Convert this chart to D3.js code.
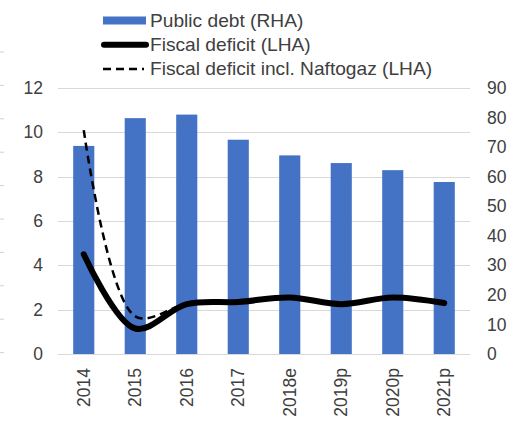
<!DOCTYPE html>
<html>
<head>
<meta charset="utf-8">
<script src="https://cdn.jsdelivr.net/npm/d3@7"></script>
<style>
  body { margin: 0; background: #fff; }
  svg text { font-family: Arial, "Liberation Sans", sans-serif; fill: #404040; }
</style>
</head>
<body>
<div id="chart"></div>
<script>
// Data
var years = ['2014', '2015', '2016', '2017', '2018e', '2019p', '2020p', '2021p'];
var publicDebt = [70.4, 79.8, 81.0, 72.5, 67.2, 64.6, 62.2, 58.2];      // % GDP, right axis
var fiscalDeficit = [4.5, 1.15, 2.25, 2.35, 2.55, 2.25, 2.55, 2.3];      // left axis
var deficitNaftogaz = [10.1, 1.7, 2.25, 2.35, 2.55, 2.25, 2.55, 2.3];    // left axis
var leftTicks = [0, 2, 4, 6, 8, 10, 12];
var rightTicks = [0, 10, 20, 30, 40, 50, 60, 70, 80, 90];

var width = 522, height = 421;
var margin = { left: 58, right: 52, top: 88, bottom: 67 };
var chartWidth = width - margin.left - margin.right;
var chartHeight = height - margin.top - margin.bottom;

var svg = d3.select('#chart').append('svg')
    .attr('width', width)
    .attr('height', height);

// stray tick marks from the neighbouring chart at the left edge
svg.append('g').selectAll('line')
    .data(d3.range(10))
    .enter().append('line')
    .attr('x1', 0).attr('x2', 4)
    .attr('y1', function(d) { return 52 + d * 33.4; })
    .attr('y2', function(d) { return 52 + d * 33.4; })
    .attr('stroke', '#d0d0d0');

var g = svg.append('g')
    .attr('transform', 'translate(' + margin.left + ',' + margin.top + ')');

var x = d3.scaleBand().domain(years).range([0, chartWidth]).paddingInner(0.59).paddingOuter(0.295);
var xPoint = function(d) { return x(d) + x.bandwidth() / 2; };
var yLeft = d3.scaleLinear().domain([0, 12]).range([chartHeight, 0]);
var yRight = d3.scaleLinear().domain([0, 90]).range([chartHeight, 0]);

// gridlines
g.append('g').selectAll('line')
    .data(leftTicks)
    .enter().append('line')
    .attr('x1', 0).attr('x2', chartWidth)
    .attr('y1', function(d) { return Math.round(yLeft(d)) + 0.5; })
    .attr('y2', function(d) { return Math.round(yLeft(d)) + 0.5; })
    .attr('stroke', '#d9d9d9')
    .attr('stroke-width', 1);

// bars
g.append('g').selectAll('rect')
    .data(publicDebt)
    .enter().append('rect')
    .attr('x', function(d, i) { return x(years[i]); })
    .attr('width', x.bandwidth())
    .attr('y', function(d) { return yRight(d); })
    .attr('height', function(d) { return chartHeight - yRight(d); })
    .attr('fill', '#4472c4');

// lines
var line = d3.line()
    .x(function(d, i) { return xPoint(years[i]); })
    .y(function(d) { return yLeft(d); })
    .curve(d3.curveCatmullRom.alpha(0.5));

g.append('path')
    .datum(deficitNaftogaz)
    .attr('d', line)
    .attr('fill', 'none')
    .attr('stroke', '#000')
    .attr('stroke-width', 2.5)
    .attr('stroke-dasharray', '8,5');

g.append('path')
    .datum(fiscalDeficit)
    .attr('d', line)
    .attr('fill', 'none')
    .attr('stroke', '#000')
    .attr('stroke-width', 6)
    .attr('stroke-linecap', 'round')
    .attr('stroke-linejoin', 'round');

// axes
var leftAxis = d3.axisLeft(yLeft).tickValues(leftTicks).tickSize(0).tickPadding(15);
var rightAxis = d3.axisRight(yRight).tickValues(rightTicks).tickSize(0).tickPadding(17);
var bottomAxis = d3.axisBottom(x).tickSize(0);

var leftG = g.append('g').call(leftAxis);
var rightG = g.append('g').attr('transform', 'translate(' + chartWidth + ',0)').call(rightAxis);
var bottomG = g.append('g').attr('transform', 'translate(0,' + chartHeight + ')').call(bottomAxis);

[leftG, rightG, bottomG].forEach(function(a) {
    a.select('.domain').remove();
    a.selectAll('text').style('font-size', '17.5px').attr('fill', '#404040')
        .style('font-family', 'Arial, "Liberation Sans", sans-serif');
});

bottomG.selectAll('text')
    .attr('transform', 'rotate(-90)')
    .attr('text-anchor', 'end')
    .attr('x', -14)
    .attr('y', 0)
    .attr('dy', '0.35em');

// legend
var legend = svg.append('g').attr('transform', 'translate(101,0)');
var items = [
    { label: 'Public debt (RHA)', type: 'bar' },
    { label: 'Fiscal deficit (LHA)', type: 'solid' },
    { label: 'Fiscal deficit incl. Naftogaz (LHA)', type: 'dash' }
];
var row = legend.selectAll('g')
    .data(items)
    .enter().append('g')
    .attr('transform', function(d, i) { return 'translate(0,' + (20.5 + i * 24.3) + ')'; });

row.filter(function(d) { return d.type === 'bar'; })
    .append('rect')
    .attr('x', 2).attr('y', -4).attr('width', 43).attr('height', 8)
    .attr('fill', '#4472c4');
row.filter(function(d) { return d.type === 'solid'; })
    .append('line')
    .attr('x1', 3).attr('x2', 45).attr('y1', 0).attr('y2', 0)
    .attr('stroke', '#000').attr('stroke-width', 6).attr('stroke-linecap', 'round');
row.filter(function(d) { return d.type === 'dash'; })
    .append('line')
    .attr('x1', 2).attr('x2', 43).attr('y1', 0).attr('y2', 0)
    .attr('stroke', '#000').attr('stroke-width', 2.5).attr('stroke-dasharray', '8,5');

// the reference text is slightly stretched horizontally
row.append('text')
    .attr('transform', 'translate(49,0) scale(1.065,1)')
    .attr('dy', '0.35em')
    .style('font-size', '18px')
    .text(function(d) { return d.label; });
</script>
</body>
</html>
